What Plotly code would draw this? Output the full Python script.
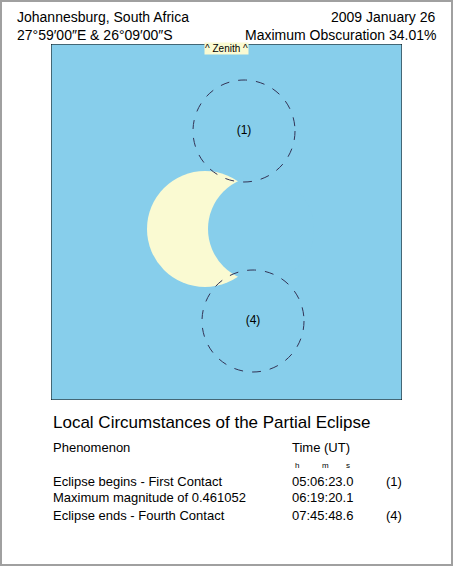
import plotly.graph_objects as go

# geometry in plot units (1 unit = 1 px); plot area 351 x 356
sun = {"x": 154, "y": 171, "r": 58}
moon_max = {"x": 210, "y": 171, "r": 53}
contacts = ["(1)", "(4)"]
contact_x = [193, 202]
contact_y = [269, 79]
contact_r = [51, 51]

phenomena = ["Eclipse begins - First Contact", "Maximum magnitude of 0.461052", "Eclipse ends - Fourth Contact"]
times = ["05:06:23.0", "06:19:20.1", "07:45:48.6"]
marks = ["(1)", "", "(4)"]

W, H = 453, 566
L, R, T, B = 51, 51, 44, 166
PW, PH = W - L - R, H - T - B

fig = go.Figure()
fig.add_trace(go.Scatter(x=contact_x, y=contact_y, mode="text", text=contacts,
                         textfont=dict(size=12, color="black"), hoverinfo="skip"))

shapes = [
    dict(type="rect", xref="x", yref="y", x0=0, x1=PW, y0=0, y1=PH, fillcolor="#87ceeb", line=dict(width=0), layer="below"),
    dict(type="circle", xref="x", yref="y", x0=sun["x"] - sun["r"], x1=sun["x"] + sun["r"],
         y0=sun["y"] - sun["r"], y1=sun["y"] + sun["r"], fillcolor="#fafad2", line=dict(width=0), layer="below"),
    dict(type="circle", xref="x", yref="y", x0=moon_max["x"] - moon_max["r"], x1=moon_max["x"] + moon_max["r"],
         y0=moon_max["y"] - moon_max["r"], y1=moon_max["y"] + moon_max["r"], fillcolor="#87ceeb", line=dict(width=0), layer="below"),
]
for cx, cy, r in zip(contact_x, contact_y, contact_r):
    shapes.append(dict(type="circle", xref="x", yref="y", x0=cx - r, x1=cx + r, y0=cy - r, y1=cy + r,
                       line=dict(color="#333355", width=1, dash="dash")))
shapes.append(dict(type="rect", xref="x", yref="y", x0=0, x1=PW, y0=0, y1=PH, line=dict(color="black", width=1)))
# outer grey frame
shapes.append(dict(type="rect", xref="paper", yref="paper", x0=-(L - 1) / PW, x1=1 + (R - 1) / PW,
                   y0=-(B - 1) / PH, y1=1 + (T - 1) / PH, line=dict(color="#a0a0a0", width=2)))


def px(xp, yp, text, anchor="left", size=14, **kw):
    fig.add_annotation(xref="paper", yref="paper", x=(xp - L) / PW, y=(H - B - yp) / PH,
                       text=text, showarrow=False, xanchor=anchor, yanchor="middle",
                       font=dict(size=size, color="black"), **kw)


px(15, 17, "Johannesburg, South Africa")
px(15, 35, "27°59′00″E & 26°09′00″S")
px(438, 17, "2009 January 26", "right")
px(438, 35, "Maximum Obscuration 34.01%", "right")
px(226, 48, "^ Zenith ^", "center", size=10, bgcolor="#fafad2", borderpad=0)
px(51, 422, "Local Circumstances of the Partial Eclipse", size=17)
px(51, 448, "Phenomenon", size=13)
px(290, 448, "Time (UT)", size=13)
px(297, 465, "h", "center", size=8)
px(325, 465, "m", "center", size=8)
px(348, 465, "s", "center", size=8)
for i, (p, t, m) in enumerate(zip(phenomena, times, marks)):
    y = 481 + i * 17
    px(51, y, p, size=13)
    px(290, y, t, size=13)
    px(384, y, m, size=13)

fig.update_layout(
    width=W, height=H, margin=dict(l=L, r=R, t=T, b=B),
    paper_bgcolor="white", plot_bgcolor="white", showlegend=False,
    font=dict(family="Liberation Sans, Arial, sans-serif"),
    xaxis=dict(range=[0, PW], visible=False, fixedrange=True),
    yaxis=dict(range=[0, PH], visible=False, fixedrange=True),
    shapes=shapes,
)
fig.write_html("out.html", config={"displayModeBar": False},
               post_script="document.body.style.margin='0';document.body.style.overflow='hidden';")
